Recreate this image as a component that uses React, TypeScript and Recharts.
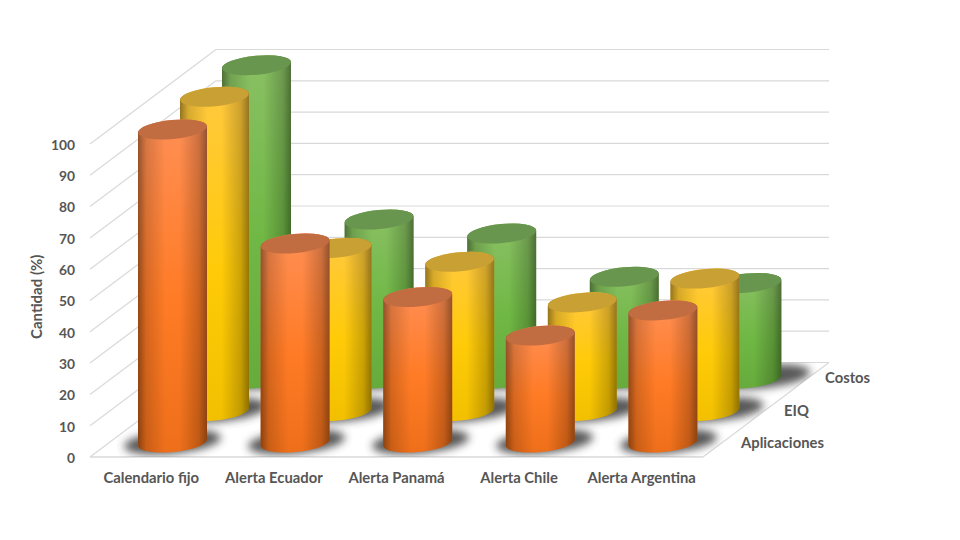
import { BarChart, Bar, XAxis, YAxis, CartesianGrid } from 'recharts';

const CATEGORIES = ['Calendario fijo', 'Alerta Ecuador', 'Alerta Panamá', 'Alerta Chile', 'Alerta Argentina'];
const APLICACIONES = [100, 63.6, 46.5, 34.2, 42.2];
const EIQ = [100.4, 52.1, 47.7, 34.7, 42.3];
const COSTOS = [100.1, 50.8, 46.3, 32.5, 30.5];
const Y_TICKS = [0, 10, 20, 30, 40, 50, 60, 70, 80, 90, 100];

const data = CATEGORIES.map((name, i) => ({
  name,
  aplicaciones: APLICACIONES[i],
  eiq: EIQ[i],
  costos: COSTOS[i],
}));

const FONT = 'Lato, "Open Sans", sans-serif';
const TEXT = '#565656';
const GRID = '#D9D9D9';

// plot box of the front plane, the rest of the 3D room hangs off it
const W = 960;
const H = 540;
const LEFT = 90;
const RIGHT = 257;
const TOP = 140.87; // domain runs to 101 so the 100 tick lands on y=144
const BOTTOM = 83;
const PLOT_BOTTOM = H - BOTTOM;
const PLOT_RIGHT = W - RIGHT;
const DEPTH_X = 126;
const DEPTH_Y = 94.5;

const BAR_W = 69;
const RY = 9.5;
const TILT = -5.5;
const TILT_DY = 3.3;

const wallLine = (p: any) => {
  const isFloor = Math.abs(p.y1 - PLOT_BOTTOM) < 1;
  const bx = LEFT + DEPTH_X;
  const by = p.y1 - DEPTH_Y;
  return (
    <g key={`wall-${p.index}`} stroke={GRID} strokeWidth={1.2} fill="none">
      <line x1={LEFT} y1={p.y1} x2={bx} y2={by} />
      <line x1={bx} y1={by} x2={bx + (PLOT_RIGHT - LEFT)} y2={by} />
      {isFloor && <line x1={LEFT} y1={p.y1} x2={PLOT_RIGHT} y2={p.y1} strokeWidth={1.5} />}
      {isFloor && <line x1={PLOT_RIGHT} y1={p.y1} x2={PLOT_RIGHT + DEPTH_X} y2={by} />}
    </g>
  );
};

// draws one cylinder, pushed back into the room by dx/dy
const cylinder = (id: string, dx: number, dy: number, topColor: string, shadowShift: number) => (props: any) => {
  const { x, y, width, height } = props;
  const cx = x + width / 2 + dx;
  const rx = BAR_W / 2;
  const top = y - dy;
  const base = y + height - dy;
  const body = `M${cx - rx},${top + TILT_DY} L${cx - rx},${base + TILT_DY} A${rx},${RY} ${TILT} 0 0 ${cx + rx},${base - TILT_DY} L${cx + rx},${top - TILT_DY} A${rx},${RY} ${TILT} 0 0 ${cx - rx},${top + TILT_DY} Z`;
  return (
    <g>
      <g clipPath="url(#floorClip)">
        <ellipse
          cx={cx + shadowShift + (cx - 172) * 0.012}
          cy={base - 0.5}
          rx={rx + 14}
          ry={RY + 2}
          fill="#3A3A3A"
          opacity={0.85}
          filter="url(#soft)"
          transform={`rotate(${TILT} ${cx} ${base})`}
        />
      </g>
      <path d={body} fill={`url(#${id})`} />
      <path d={body} fill="url(#sideShade)" />
      <ellipse cx={cx} cy={top} rx={rx} ry={RY} fill={topColor} transform={`rotate(${TILT} ${cx} ${top})`} />
    </g>
  );
};

const vertical = (id: string, c1: string, c2: string, c3: string) => (
  <linearGradient id={id} x1="0" y1="0" x2="0" y2="1">
    <stop offset="0%" stopColor={c1} />
    <stop offset="55%" stopColor={c2} />
    <stop offset="100%" stopColor={c3} />
  </linearGradient>
);

const DEPTH_LABELS = [
  { text: 'Aplicaciones', x: 741, y: 443 },
  { text: 'EIQ', x: 784, y: 411 },
  { text: 'Costos', x: 825, y: 378 },
];

export default function App() {
  return (
    <div style={{ position: 'absolute', left: 0, top: 0, width: W, height: H, background: '#fff' }}>
      <BarChart
        width={W}
        height={H}
        data={data}
        barSize={BAR_W}
        barGap={-BAR_W}
        margin={{ top: TOP, right: RIGHT, bottom: 0, left: 0 }}
      >
        <defs>
          {vertical('orangeFill', '#FF8F55', '#FF7B25', '#EE6F1A')}
          {vertical('yellowFill', '#FFC840', '#FFCB08', '#F2C000')}
          {vertical('greenFill', '#8AC064', '#70B845', '#66AB3C')}
          <linearGradient id="sideShade" x1="0" y1="0" x2="1" y2="0">
            <stop offset="0%" stopColor="#000" stopOpacity={0.42} />
            <stop offset="12%" stopColor="#000" stopOpacity={0.16} />
            <stop offset="40%" stopColor="#000" stopOpacity={0} />
            <stop offset="60%" stopColor="#000" stopOpacity={0} />
            <stop offset="88%" stopColor="#000" stopOpacity={0.2} />
            <stop offset="100%" stopColor="#000" stopOpacity={0.42} />
          </linearGradient>
          <filter id="soft" x="-20%" y="-50%" width="140%" height="200%">
            <feGaussianBlur stdDeviation="4" />
          </filter>
          <clipPath id="floorClip">
            <polygon
              points={`${LEFT},${PLOT_BOTTOM} ${PLOT_RIGHT},${PLOT_BOTTOM} ${PLOT_RIGHT + DEPTH_X},${PLOT_BOTTOM - DEPTH_Y} ${LEFT + DEPTH_X},${PLOT_BOTTOM - DEPTH_Y}`}
            />
          </clipPath>
        </defs>
        <CartesianGrid vertical={false} horizontal={wallLine} syncWithTicks />
        <XAxis
          dataKey="name"
          height={BOTTOM}
          axisLine={false}
          tickLine={false}
          interval={0}
          tickMargin={9}
          tick={{ fill: TEXT, fontSize: 14.8, fontWeight: 700, fontFamily: FONT }}
        />
        <YAxis
          width={LEFT}
          domain={[0, 101]}
          ticks={Y_TICKS}
          axisLine={false}
          tickLine={false}
          tickMargin={9}
          tick={{ fill: TEXT, fontSize: 13.8, fontWeight: 700, fontFamily: FONT, dy: 1 }}
          label={{
            value: 'Cantidad (%)',
            angle: -90,
            position: 'insideLeft',
            dx: 32,
            dy: 40,
            style: { fill: TEXT, fontSize: 15, fontWeight: 700, fontFamily: FONT },
          }}
        />
        <Bar dataKey="costos" isAnimationActive={false} shape={cylinder('greenFill', 105, 78.5, '#68964E', 8)} />
        <Bar dataKey="eiq" isAnimationActive={false} shape={cylinder('yellowFill', 63, 46, '#C9A033', 4)} />
        <Bar dataKey="aplicaciones" isAnimationActive={false} shape={cylinder('orangeFill', 21, 14.5, '#C26C42', 0)} />
        {DEPTH_LABELS.map((l) => (
          <text key={l.text} x={l.x} y={l.y} dy={5} fill={TEXT} fontSize={14.8} fontWeight={700} fontFamily={FONT}>
            {l.text}
          </text>
        ))}
      </BarChart>
    </div>
  );
}
